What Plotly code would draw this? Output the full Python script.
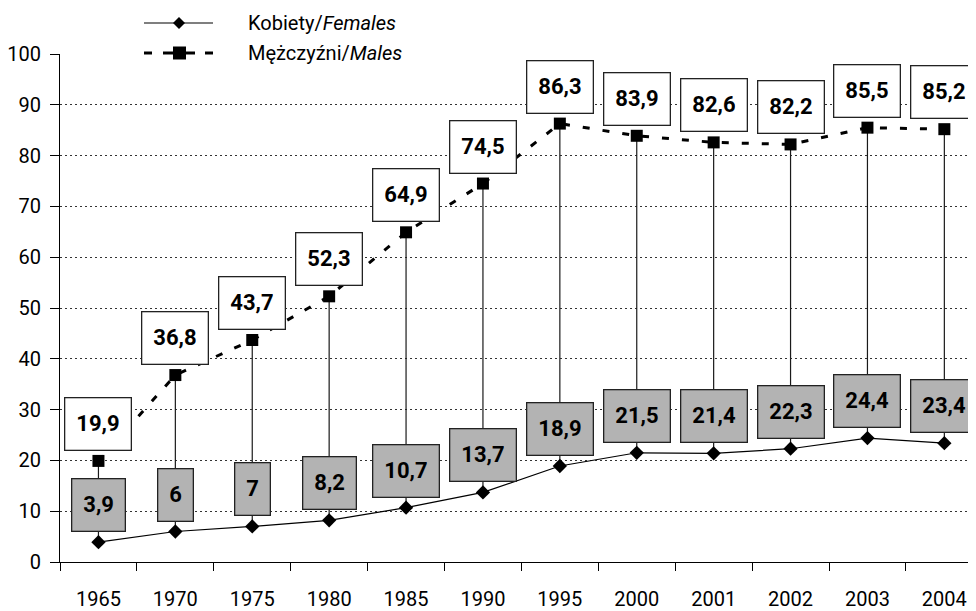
import plotly.graph_objects as go

years = ["1965", "1970", "1975", "1980", "1985", "1990", "1995",
         "2000", "2001", "2002", "2003", "2004"]
females = [3.9, 6, 7, 8.2, 10.7, 13.7, 18.9, 21.5, 21.4, 22.3, 24.4, 23.4]
males = [19.9, 36.8, 43.7, 52.3, 64.9, 74.5, 86.3, 83.9, 82.6, 82.2, 85.5, 85.2]
y_ticks = [0, 10, 20, 30, 40, 50, 60, 70, 80, 90, 100]

FONT = "Roboto, DejaVu Sans Condensed, sans-serif"
OFF = 8                      # page body margin in the browser
W, H = 976 - OFF, 611 - OFF  # figure size
PL, PT, PB = 60, 54, 562     # plot box in page pixels
ML, MT, MB, MR = PL - OFF, PT - OFF, 611 - PB, 0
STEP = 76.9  # px per category

def fmt(v):
    return f"{v:g}".replace(".", ",")

fig = go.Figure()

# vertical connectors
cx, cy = [], []
for yr, f, m in zip(years, females, males):
    cx += [yr, yr, None]
    cy += [f, m, None]
fig.add_trace(go.Scatter(x=cx, y=cy, mode="lines",
                         line=dict(color="#1a1a1a", width=1.2),
                         hoverinfo="skip", showlegend=False))

fig.add_trace(go.Scatter(x=years, y=females, mode="lines+markers",
                         name="Kobiety/<i>Females</i>",
                         line=dict(color="black", width=1.2),
                         marker=dict(symbol="diamond", size=11, color="black"),
                         showlegend=False))
fig.add_trace(go.Scatter(x=years, y=males, mode="lines+markers",
                         name="Mężczyźni/<i>Males</i>",
                         line=dict(color="black", width=3, dash="7px,13px"),
                         marker=dict(symbol="square", size=12, color="black"),
                         showlegend=False))

lab_font = dict(family=FONT, size=22, color="black", weight="bold")
for i, (f, m) in enumerate(zip(females, males)):
    fig.add_annotation(x=i, y=f, xref="x", yref="y", text=fmt(f),
                       showarrow=False, yanchor="bottom", yshift=10,
                       font=lab_font, bgcolor="#b3b3b3", bordercolor="#222",
                       borderwidth=1.3, borderpad=11, height=29, valign="middle")
    fig.add_annotation(x=i, y=m, xref="x", yref="y", text=fmt(m),
                       showarrow=False, yanchor="bottom", yshift=10,
                       font=lab_font, bgcolor="white", bordercolor="#222",
                       borderwidth=1.3, borderpad=11, height=29, valign="middle")

# manual legend (page-pixel positions converted to offsets from the plot's top-left)
def lx(px):
    return px - PL

def ly(py):
    return PT - py

shape_common = dict(xref="paper", yref="paper", xsizemode="pixel", ysizemode="pixel",
                    xanchor=0, yanchor=1)
# females row
fig.add_shape(type="line", x0=lx(144), x1=lx(213), y0=ly(23), y1=ly(23),
              line=dict(color="black", width=1.2), **shape_common)
fig.add_shape(type="path",
              path=f"M{lx(179)},{ly(23)+6} L{lx(179)+6},{ly(23)} L{lx(179)},{ly(23)-6} L{lx(179)-6},{ly(23)} Z",
              fillcolor="black", line=dict(color="black", width=0), **shape_common)
# males row
for a, b in [(144, 152), (163, 195), (205, 213)]:
    fig.add_shape(type="line", x0=lx(a), x1=lx(b), y0=ly(53), y1=ly(53),
                  line=dict(color="black", width=3), **shape_common)
fig.add_shape(type="rect", x0=lx(173), x1=lx(186), y0=ly(53) - 6.5, y1=ly(53) + 6.5,
              fillcolor="black", line=dict(color="black", width=0), **shape_common)

plot_w = W - ML - MR
plot_h = H - MT - MB
leg_font = dict(family=FONT, size=20, color="black")
fig.add_annotation(xref="paper", yref="paper", x=(246 - PL) / plot_w,
                   y=1 + (PT - 23) / plot_h, xanchor="left", yanchor="middle",
                   text="Kobiety/<i>Females</i>", showarrow=False, font=leg_font)
fig.add_annotation(xref="paper", yref="paper", x=(246 - PL) / plot_w,
                   y=1 + (PT - 53) / plot_h, xanchor="left", yanchor="middle",
                   text="Mężczyźni/<i>Males</i>", showarrow=False, font=leg_font)

fig.update_layout(
    width=W, height=H,
    margin=dict(l=ML, r=MR, t=MT, b=MB, pad=0),
    paper_bgcolor="white", plot_bgcolor="white",
    font=dict(family=FONT, size=20, color="black"),
    showlegend=False,
    xaxis=dict(type="category", range=[-0.5, -0.5 + plot_w / STEP],
               showline=True, linecolor="black", linewidth=1.2,
               ticks="outside", tickson="boundaries", ticklen=8, tickcolor="black",
               tickwidth=1.2, showgrid=False, zeroline=False, automargin=False,
               ticklabelstandoff=19, tickfont=dict(family=FONT, size=20)),
    yaxis=dict(range=[0, 100], tickvals=y_ticks, showline=True, linecolor="black",
               linewidth=1.2, ticks="outside", ticklen=9, tickcolor="black",
               tickwidth=1.2, showgrid=True, gridcolor="#333", gridwidth=1,
               griddash="1.5px,3.5px", zeroline=False, ticklabelstandoff=5,
               automargin=False, tickfont=dict(family=FONT, size=20)),
)

fig.write_html("out.html")
